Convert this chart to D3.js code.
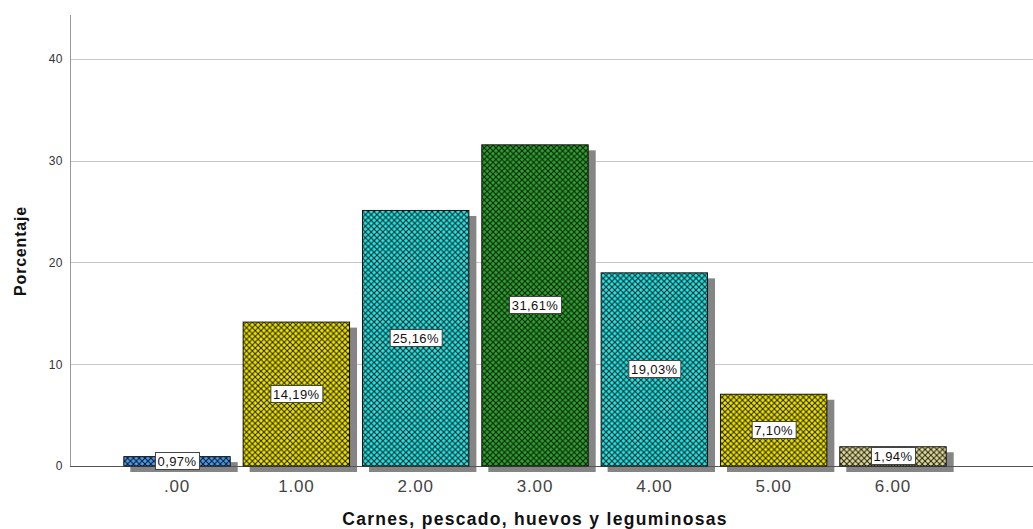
<!DOCTYPE html>
<html><head><meta charset="utf-8">
<script src="https://cdn.jsdelivr.net/npm/d3@7"></script>
<style>body{margin:0;background:#fff}svg{display:block}</style>
</head><body>
<script>
const categories = [".00","1.00","2.00","3.00","4.00","5.00","6.00"];
const values = [0.97,14.19,25.16,31.61,19.03,7.10,1.94];
const labels = ["0,97%","14,19%","25,16%","31,61%","19,03%","7,10%","1,94%"];
const colors = ["#4a9bf0","#eee400","#28e4e4","#2ea32e","#28e4e4","#eee400","#e2dc98"];
const yTicks = [0,10,20,30,40];

const W=1033,H=529;
const FONT="Arial, 'Liberation Sans', sans-serif";
const svg=d3.select("body").append("svg").attr("width",W).attr("height",H);
const x=d3.scaleBand().domain(categories).range([117.35,952.65]).paddingInner(0.1).paddingOuter(0.05);
const y=d3.scaleLinear().domain([0,44.32]).range([466,15]);

const defs=svg.append("defs");
const T=5.8;
colors.forEach((c,i)=>{
  const p=defs.append("pattern").attr("id","p"+i).attr("patternUnits","userSpaceOnUse")
    .attr("width",T).attr("height",T);
  p.append("rect").attr("width",T).attr("height",T).attr("fill",c);
  p.append("path").attr("d",`M-1,-1L${T+1},${T+1}M-1,${T+1}L${T+1},-1`)
    .attr("stroke","#000").attr("stroke-width",1.0).attr("stroke-opacity",0.85);
});

// gridlines
svg.append("g").selectAll("line").data(yTicks.filter(d=>d>0)).join("line")
  .attr("x1",70).attr("x2",W).attr("y1",d=>Math.round(y(d))+0.5).attr("y2",d=>Math.round(y(d))+0.5)
  .attr("stroke","#c8c8c8").attr("stroke-width",1);

// y axis
const ya=svg.append("g").attr("transform","translate(70,0)").call(d3.axisLeft(y).tickValues(yTicks).tickSize(0).tickPadding(7));
ya.select(".domain").remove();
ya.selectAll("text").attr("font-family",FONT).attr("font-size",12).attr("fill","#333").attr("letter-spacing",0.5);
svg.append("line").attr("x1",70.5).attr("x2",70.5).attr("y1",15).attr("y2",466).attr("stroke","#999");

// shadows
svg.append("g").selectAll("rect").data(values).join("rect")
  .attr("x",(d,i)=>x(categories[i])+7).attr("y",d=>y(d)+6)
  .attr("width",x.bandwidth()).attr("height",d=>466-y(d))
  .attr("fill","#858585");

// baseline
svg.append("line").attr("x1",70).attr("x2",W).attr("y1",466.5).attr("y2",466.5).attr("stroke","#555");

// bars
svg.append("g").selectAll("rect").data(values).join("rect")
  .attr("x",(d,i)=>x(categories[i])+0.5).attr("y",d=>y(d)+0.5)
  .attr("width",x.bandwidth()-1).attr("height",d=>466-y(d)-0.5)
  .attr("fill",(d,i)=>`url(#p${i})`).attr("stroke","#111").attr("stroke-width",1);

// labels
const lg=svg.append("g").selectAll("g").data(values).join("g")
  .attr("transform",(d,i)=>`translate(${x(categories[i])+x.bandwidth()/2},${Math.round((y(d)+466)/2)})`);
lg.append("text").text((d,i)=>labels[i]).attr("text-anchor","middle").attr("dy","0.36em")
  .attr("font-family",FONT).attr("font-size",13).attr("letter-spacing",0.4).attr("fill","#111")
  .each(function(){
    const b=this.getBBox();
    d3.select(this.parentNode).insert("rect","text").attr("x",Math.round(b.x-3)+0.5).attr("y",-8.5)
      .attr("width",Math.round(b.width+5)).attr("height",17).attr("fill","#fff").attr("stroke","#444");
  });

// x tick labels
svg.append("g").selectAll("text").data(categories).join("text")
  .attr("x",d=>x(d)+x.bandwidth()/2).attr("y",492).attr("text-anchor","middle")
  .attr("font-family",FONT).attr("font-size",17).attr("letter-spacing",0.8).attr("fill","#444")
  .text(d=>d);

// titles
svg.append("text").attr("x",535).attr("y",525).attr("text-anchor","middle")
  .attr("font-family",FONT).attr("font-weight","bold").attr("font-size",17.5).attr("letter-spacing",1.3).attr("fill","#111")
  .text("Carnes, pescado, huevos y leguminosas");
svg.append("text").attr("transform","translate(26,251) rotate(-90)").attr("text-anchor","middle")
  .attr("font-family",FONT).attr("font-weight","bold").attr("font-size",16).attr("letter-spacing",0.8).attr("fill","#111")
  .text("Porcentaje");
</script>
</body></html>
